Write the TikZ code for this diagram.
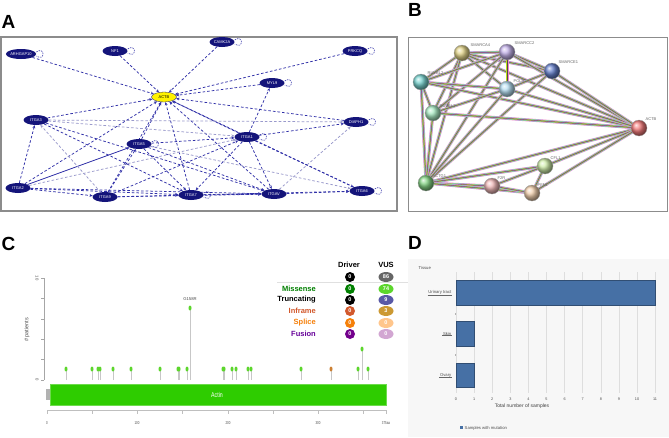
\documentclass[tikz,border=0pt]{standalone}
\usepackage{fontspec}
\setmainfont{Liberation Sans}
\usetikzlibrary{arrows.meta,shapes.geometric}
\pgfdeclarelayer{bottom}
\pgfdeclarelayer{background}
\pgfsetlayers{bottom,background,main}
\definecolor{navy}{HTML}{14147A}
\definecolor{edgeblue}{HTML}{3030A8}
\definecolor{edgelight}{HTML}{9A9ACC}
\definecolor{actgreen}{HTML}{2ECC00}
\definecolor{headgreen}{HTML}{5CD62C}
\definecolor{barblue}{HTML}{4670A5}
\definecolor{cKhaki}{HTML}{E2D48A}
\definecolor{cLav}{HTML}{C4B2EA}
\definecolor{cDBlue}{HTML}{6680CC}
\definecolor{cTeal}{HTML}{7AD4D0}
\definecolor{cLBlue}{HTML}{B6DEF2}
\definecolor{cMint}{HTML}{A8EAC2}
\definecolor{cRed}{HTML}{F47C7C}
\definecolor{cPGreen}{HTML}{D0EEAA}
\definecolor{cGreen}{HTML}{84D484}
\definecolor{cPink}{HTML}{F0B8B8}
\definecolor{cTan}{HTML}{F2D0AE}
\begin{document}
\begin{tikzpicture}[x=1pt,y=-1pt,
  panel/.style={font=\fontsize{19}{19}\selectfont\bfseries, inner sep=0pt},
  anode/.style={ellipse, fill=navy, minimum width=25pt, minimum height=10pt, inner sep=0pt, text=white, font=\fontsize{4}{4}\selectfont},
  aedge/.style={edgeblue, dashed, dash pattern=on 2.6pt off 2pt, line width=0.75pt, -{Stealth[length=3.2pt,width=2.8pt]}},
  alight/.style={aedge, edgelight},
  asolid/.style={edgeblue, line width=0.8pt, -{Stealth[length=3.2pt,width=2.8pt]}},
  aloop/.style={edgeblue, dashed, dash pattern=on 1.5pt off 1pt, line width=0.55pt},
  bnode/.style={circle, minimum size=16pt, inner sep=0pt, draw=black!35, line width=0.3pt},
  blabel/.style={font=\fontsize{4}{4}\selectfont, text=black!60, inner sep=0.5pt},
  sedge/.style={line width=3pt, draw=magenta!50,
     postaction={draw=cyan!60, line width=2.2pt},
     postaction={draw=yellow!75!green, line width=1.4pt},
     postaction={draw=violet!60, line width=0.7pt},
     postaction={draw=black!70, line width=0.25pt}},
  stem/.style={black!22, line width=0.8pt},
  head/.style={ellipse, fill=headgreen, minimum width=3pt, minimum height=5pt, inner sep=0pt},
  legtxt/.style={font=\fontsize{7.5}{7.5}\selectfont\bfseries, anchor=east, inner sep=0pt},
  dcirc/.style={circle, minimum size=10pt, inner sep=0pt, text=white, font=\fontsize{5.5}{5.5}\selectfont\bfseries},
  vcirc/.style={ellipse, minimum width=15pt, minimum height=10pt, inner sep=0pt, text=white, font=\fontsize{5.5}{5.5}\selectfont\bfseries},
  small/.style={font=\fontsize{4.2}{4.2}\selectfont, text=black!70, inner sep=0.5pt},
  dbar/.style={fill=barblue, draw=barblue!70!black, line width=0.3pt}
]
\useasboundingbox (0,0) rectangle (669,437);
\begin{pgfonlayer}{bottom}
\fill[white] (0,0) rectangle (669,437);
\fill[black!3] (408,259) rectangle (669,437);
\end{pgfonlayer}

% ---------------- Panel labels
\node[panel] (la) at (8.5,22) {A};
\node[panel] (lb) at (415,9.5) {B};
\node[panel] (lc) at (8.5,244) {C};
\node[panel] (ld) at (415,243) {D};

% ---------------- Panel A
\draw[black!45, line width=1.2pt] (1,37) rectangle (397,211);
\node[anode] (arh) at (21,54) {ARHGAP10};
\node[anode] (nf1) at (115,51) {NF1};
\node[anode] (camk) at (222,42) {CAMK2A};
\node[anode] (prkcq) at (355,51) {PRKCQ};
\node[anode] (myl9) at (272,83) {MYL9};
\node[anode, fill=yellow, text=black, draw=navy, line width=0.3pt] (actb) at (164,97) {ACTB};
\node[anode] (itga3) at (36,120) {ITGA3};
\node[anode] (itga5) at (139,144) {ITGA5};
\node[anode] (itga1) at (247,137) {ITGA1};
\node[anode] (diaph) at (356,122) {DIAPH1};
\node[anode] (itga2) at (18,188) {ITGA2};
\node[anode] (itga9) at (105,197) {ITGA9};
\node[anode] (itga7) at (191,195) {ITGA7};
\node[anode] (itgav) at (274,194) {ITGAV};
\node[anode] (itga6) at (362,191) {ITGA6};
\foreach \n in {arh,nf1,camk,prkcq,myl9,itga5,itga1,diaph,itga7,itga6}{
  \draw[aloop] ([yshift=2pt]\n.east) .. controls +(9,-6) and +(9,6) .. ([yshift=-2pt]\n.east);
}
\begin{pgfonlayer}{background}
\foreach \n in {arh,nf1,camk,prkcq,myl9,itga3,itga5,itga1,diaph,itga2,itga9,itga7,itgav,itga6}{
  \draw[aedge] (\n) -- (actb);
}
\draw[aedge] (itga1) -- (myl9);
\draw[alight] (itga3) -- (itga1);
\draw[aedge] (itga3) -- (itga7);
\draw[aedge] (itga3) -- (itgav);
\draw[alight] (itga3) -- (diaph);
\draw[aedge] (itga2) -- (itga3);
\draw[asolid] (itga2) -- (itga5);
\draw[alight] (itga2) -- (itga1);
\draw[aedge] (itga2) -- (itga7);
\draw[aedge] (itga2) -- (itgav);
\draw[aedge] (itga2) -- (itga9);
\draw[alight] (itga9) -- (itga3);
\draw[aedge] (itga9) -- (itga5);
\draw[aedge] (itga9) -- (itga1);
\draw[aedge] (itga9) -- (itga7);
\draw[aedge] (itga9) -- (itgav);
\draw[aedge] (itga5) -- (itga1);
\draw[aedge] (itga5) -- (itga7);
\draw[aedge] (itga5) -- (itgav);
\draw[alight] (itga5) -- (itga6);
\draw[aedge] (itga1) -- (itga7);
\draw[aedge] (itga1) -- (itgav);
\draw[aedge] (itga1) -- (itga6);
\draw[aedge] (itga1) -- (diaph);
\draw[alight] (itgav) -- (diaph);
\draw[aedge] (itgav) -- (itga6);
\draw[aedge] (itga7) -- (itga6);
\draw[aedge] (itga7) -- (itgav);
\end{pgfonlayer}

% ---------------- Panel B
\draw[black!45, line width=0.8pt] (408,37) rectangle (667,211);
\node[bnode, ball color=cKhaki] (sa4) at (462,53) {};
\node[bnode, ball color=cLav] (sc2) at (507,52) {};
\node[bnode, ball color=cDBlue] (se1) at (552,71) {};
\node[bnode, ball color=cTeal] (rv2) at (421,82) {};
\node[bnode, ball color=cLBlue] (pol) at (507,89) {};
\node[bnode, ball color=cMint] (rv1) at (433,113) {};
\node[bnode, ball color=cRed] (bactb) at (639,128) {};
\node[bnode, ball color=cPGreen] (cfl) at (545,166) {};
\node[bnode, ball color=cGreen] (actg) at (426,183) {};
\node[bnode, ball color=cPink] (f2r) at (492,186) {};
\node[bnode, ball color=cTan] (pfn) at (532,193) {};
\node[blabel, anchor=west] (tsa4) at (470,45) {SMARCA4};
\node[blabel, anchor=west] (tsc2) at (514,43) {SMARCC2};
\node[blabel, anchor=west] (tse1) at (558,62) {SMARCE1};
\node[blabel, anchor=west] (trv2) at (427,73) {RUVBL2};
\node[blabel, anchor=west] (tpol) at (513,81) {POLR2A};
\node[blabel, anchor=west] (trv1) at (439,106) {RUVBL1};
\node[blabel, anchor=west] (tactb) at (645,119) {ACTB};
\node[blabel, anchor=west] (tcfl) at (550,158) {CFL1};
\node[blabel, anchor=west] (tactg) at (432,176) {ACTG1};
\node[blabel, anchor=west] (tf2r) at (497,178) {F2R};
\node[blabel, anchor=west] (tpfn) at (537,185) {PFN1};
\begin{pgfonlayer}{background}
\foreach \a/\b in {sa4/sc2,sa4/se1,sa4/rv2,sa4/pol,sa4/rv1,sa4/bactb,sa4/actg,
  sc2/se1,sc2/pol,sc2/rv2,sc2/rv1,sc2/bactb,sc2/actg,
  se1/pol,se1/bactb,se1/actg,
  rv2/rv1,rv2/pol,rv2/bactb,rv2/actg,
  rv1/pol,rv1/bactb,rv1/actg,
  pol/bactb,pol/actg,
  actg/bactb,actg/cfl,actg/f2r,actg/pfn,
  cfl/bactb,cfl/pfn,cfl/f2r,pfn/bactb,f2r/pfn}{
  \draw[sedge] (\a.center) -- (\b.center);
}
\end{pgfonlayer}

% ---------------- Panel C
\draw[black!35, line width=0.5pt] (44,278) coordinate (yt) -- (44,380) coordinate (yb);
\foreach \yy in {278,298.4,318.8,339.2,359.6,380}{
  \draw[black!35, line width=0.5pt] (41,\yy) -- (44,\yy);
}
\node[small, rotate=-90] (y10) at (37,278) {10};
\node[small, rotate=-90] (y0) at (37,380) {0};
\node[font=\fontsize{5.5}{5.5}\selectfont, text=black!70, rotate=90] (ylab) at (27,330) {\# patients};
\foreach \xx in {66,92,98,100,113,131,160,178,179,187,223,224,232,236,248,251,301,358,368}{
  \draw[stem] (\xx,380) -- (\xx,369);
  \node[head] at (\xx,369) {};
}
\draw[stem] (331,380) -- (331,369);
\node[head, fill=brown!80!orange] (spl) at (331,369) {};
\draw[stem] (190,380) -- (190,308);
\node[head] (g158) at (190,308) {};
\node[small] (g158t) at (190,299) {G158R};
\draw[stem] (362,380) -- (362,349);
\node[head] (h362) at (362,349) {};
\fill[black!30] (46,389) rectangle (50,400);
\draw[actgreen!70!white, fill=actgreen, line width=0.5pt] (50,384) rectangle (386,405);
\node[text=white, font=\fontsize{7}{7}\selectfont, xscale=0.75] (actin) at (217,395) {Actin};
\draw[black!25, line width=0.6pt] (47,410) -- (386,410);
\foreach \k in {0,...,7}{
  \draw[black!25, line width=0.6pt] ({47+45.2*\k},410) -- ({47+45.2*\k},414);
}
\draw[black!25, line width=0.6pt] (386,410) -- (386,414);
\node[small, xscale=0.7] (x0) at (47,423) {0};
\node[small, xscale=0.7] (x100) at (137,423) {100};
\node[small, xscale=0.7] (x200) at (228,423) {200};
\node[small, xscale=0.7] (x300) at (318,423) {300};
\node[small, xscale=0.7] (x375) at (386,423) {375aa};
\node[font=\fontsize{7.5}{7.5}\selectfont\bfseries] (hdr) at (349,265) {Driver};
\node[font=\fontsize{7.5}{7.5}\selectfont\bfseries] (hvus) at (386,265) {VUS};
\draw[black!12, line width=0.5pt] (277,282) -- (408,282);
\node[dcirc, fill=black] (d0) at (350,277) {0};
\node[vcirc, fill=black!60] (v0) at (386,277) {86};
\node[legtxt, text=green!50!black] (lm) at (316,289) {Missense};
\node[dcirc, fill=green!50!black] (d1) at (350,289) {0};
\node[vcirc, fill=headgreen] (v1) at (386,289) {74};
\node[legtxt, text=black] (lt) at (316,300) {Truncating};
\node[dcirc, fill=black] (d2) at (350,300) {0};
\node[vcirc, fill=gray!70!blue] (v2) at (386,300) {9};
\node[legtxt, text=brown!70!red] (li) at (316,311) {Inframe};
\node[dcirc, fill=brown!70!red] (d3) at (350,311) {0};
\node[vcirc, fill=brown!80!yellow] (v3) at (386,311) {3};
\node[legtxt, text=orange!85!brown] (ls) at (316,323) {Splice};
\node[dcirc, fill=orange!85!brown] (d4) at (350,323) {0};
\node[vcirc, fill=orange!45] (v4) at (386,323) {0};
\node[legtxt, text=violet!80!blue] (lf) at (316,334) {Fusion};
\node[dcirc, fill=violet!90!blue] (d5) at (350,334) {0};
\node[vcirc, fill=violet!35] (v5) at (386,334) {0};

% ---------------- Panel D
\node[small, anchor=west] (tissue) at (418,268) {Tissue};
\foreach \k in {0,...,11}{
  \draw[black!13, line width=0.5pt] ({456+18.1*\k},272) -- ({456+18.1*\k},393);
  \node[small, font=\fontsize{3.8}{3.8}\selectfont] at ({456+18.1*\k},399.5) {\k};
}
\draw[black!30, line width=0.4pt] (455,313) -- (455,315);
\draw[black!30, line width=0.4pt] (455,354) -- (455,356);
\draw[dbar] (456,280) rectangle (655,305);
\draw[dbar] (456,321) rectangle (474.1,346);
\draw[dbar] (456,363) rectangle (474.1,387);
\node[small, anchor=east] (ut) at (452,292.5) {Urinary tract};
\node[small, anchor=east] (sk) at (452,333.5) {Skin};
\node[small, anchor=east] (ov) at (452,375) {Ovary};
\foreach \t in {ut,sk,ov}{
  \draw[black!60, line width=0.25pt] ([yshift=0.3pt]\t.south west) -- ([yshift=0.3pt]\t.south east);
}
\node[font=\fontsize{5}{5}\selectfont, text=black!75] (xlab) at (522,406) {Total number of samples};
\fill[barblue] (459.5,426) rectangle (462.5,429);
\node[small, anchor=west] (legd) at (464,428) {Samples with mutation};
\end{tikzpicture}
\end{document}
